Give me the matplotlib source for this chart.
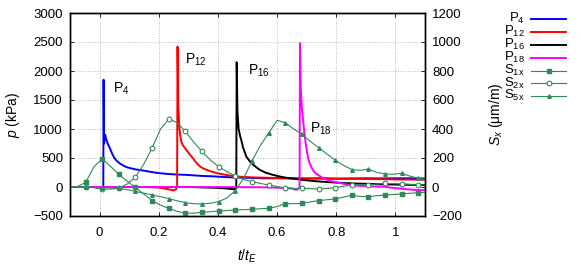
import matplotlib
matplotlib.use("Agg")
import matplotlib.pyplot as plt
from matplotlib.lines import Line2D

plt.rcParams['font.family'] = ['Liberation Sans', 'DejaVu Sans']
plt.rcParams['mathtext.fontset'] = 'custom'
plt.rcParams['mathtext.rm'] = 'Liberation Sans'
plt.rcParams['mathtext.it'] = 'Liberation Sans:italic'
plt.rcParams['mathtext.default'] = 'regular'

# ---------------- data ----------------
t_P4 = [-0.10, 0.0125, 0.0135, 0.0150, 0.017, 0.019, 0.021, 0.024, 0.028, 0.034, 0.042, 0.05,
        0.06, 0.07, 0.08, 0.09, 0.10, 0.12, 0.14, 0.16, 0.18, 0.20, 0.23, 0.26, 0.29, 0.32,
        0.35, 0.38, 0.41, 0.44, 0.47, 0.50, 0.55, 0.60, 0.65, 0.70, 0.75, 0.80, 0.85, 0.90,
        0.95, 1.00, 1.05, 1.10]
p_P4 = [0, 0, 1850, 750, 820, 900, 850, 800, 740, 680, 580, 500, 440, 400, 370, 345, 330, 305,
        290, 272, 255, 240, 225, 215, 210, 200, 190, 185, 175, 168, 162, 158, 150, 150, 148,
        145, 150, 145, 148, 150, 148, 150, 150, 148]

t_P12 = [-0.10, 0.15, 0.20, 0.23, 0.25, 0.258, 0.262, 0.2635, 0.266, 0.270, 0.275, 0.281,
         0.293, 0.305, 0.315, 0.325, 0.338, 0.35, 0.365, 0.382, 0.40, 0.42, 0.45, 0.48, 0.52,
         0.56, 0.60, 0.65, 0.70, 0.75, 0.80, 0.85, 0.90, 0.95, 1.00, 1.05, 1.10]
p_P12 = [0, 0, -10, -35, -60, -40, 0, 2420, 1400, 1000, 800, 724, 640, 560, 500, 430, 360, 320,
         290, 260, 235, 215, 190, 175, 165, 160, 155, 150, 148, 145, 140, 140, 138, 135, 130,
         128, 125]

t_P16 = [-0.10, 0.30, 0.40, 0.44, 0.455, 0.462, 0.4635, 0.466, 0.470, 0.475, 0.479, 0.485,
         0.496, 0.51, 0.525, 0.54, 0.56, 0.585, 0.61, 0.63, 0.66, 0.70, 0.73, 0.77, 0.81,
         0.845, 0.9, 0.95, 1.0, 1.07, 1.10]
p_P16 = [0, 0, -15, -30, -40, -20, 2150, 1300, 1000, 880, 810, 680, 523, 430, 360, 300, 250,
         210, 180, 160, 140, 115, 100, 85, 72, 63, 55, 48, 42, 35, 33]

t_P18 = [-0.10, 0.40, 0.55, 0.62, 0.65, 0.665, 0.672, 0.676, 0.6775, 0.680, 0.684, 0.687,
         0.692, 0.698, 0.704, 0.71, 0.72, 0.73, 0.75, 0.77, 0.79, 0.82, 0.845, 0.88, 0.92,
         0.96, 1.00, 1.03, 1.07, 1.10]
p_P18 = [0, 0, -5, -15, -25, -50, -30, 0, 2480, 1700, 1350, 1200, 950, 700, 520, 410, 300,
         236, 170, 120, 92, 60, 35, 20, 10, 6, -20, -35, -52, -55]

t_S = [-0.10, -0.075, -0.047, -0.019, 0.009, 0.037, 0.065, 0.093, 0.121, 0.150, 0.178, 0.206,
       0.234, 0.262, 0.290, 0.318, 0.346, 0.375, 0.403, 0.431, 0.459, 0.487, 0.515, 0.543,
       0.571, 0.600, 0.628, 0.656, 0.684, 0.712, 0.740, 0.768, 0.796, 0.824, 0.853, 0.881,
       0.909, 0.937, 0.965, 0.993, 1.021, 1.049, 1.078, 1.10]
S1x = [0, 3, 32, 140, 193, 142, 87, 40, -3, -50, -94, -125, -147, -168, -181, -180, -175,
       -170, -166, -162, -159, -156, -154, -150, -147, -135, -115, -115, -113, -103, -94, -88,
       -83, -70, -57, -65, -67, -60, -55, -52, -48, -43, -39, -37]
S2x = [0, 0, 2, -5, -16, -14, -9, 20, 67, 160, 272, 400, 468, 445, 383, 310, 245, 185, 140,
       105, 75, 52, 37, 25, 14, 3, -9, -12, -9, -12, -14, -10, -5, 5, 14, 15, 16, 20, 25, 23,
       21, 18, 14, 14]
S5x = [0, 0, -2, -3, -5, -7, -10, -18, -30, -43, -55, -67, -80, -95, -108, -115, -117, -112,
       -101, -75, -25, 60, 180, 285, 370, 460, 443, 400, 365, 315, 272, 228, 186, 150, 120,
       115, 124, 100, 90, 88, 94, 75, 60, 55]

x_ticks = [0, 0.2, 0.4, 0.6, 0.8, 1.0]
x_ticklabels = ['0', '0.2', '0.4', '0.6', '0.8', '1']
y_ticks = [-500, 0, 500, 1000, 1500, 2000, 2500, 3000]
y2_ticks = [-200, 0, 200, 400, 600, 800, 1000, 1200]

leg_labels = ['P$_{4}$', 'P$_{12}$', 'P$_{16}$', 'P$_{18}$', 'S$_{1x}$', 'S$_{2x}$', 'S$_{5x}$']

# ---------------- style ----------------
GREEN = '#2e8b57'
FS = 9.5
W, H = 581, 271

fig = plt.figure(figsize=(5.81, 2.71), dpi=100)
ax = fig.add_axes([70 / W, 1 - 216 / H, (425 - 70) / W, (216 - 13) / H])
ax2 = ax.twinx()

ax.set_xlim(-0.1, 1.1)
ax.set_ylim(-500, 3000)
ax2.set_ylim(-200, 1200)

ax.grid(True, color='#a0a0a0', linestyle=(0, (1, 2)), linewidth=0.6)
ax.set_axisbelow(True)

ax.plot(t_P4, p_P4, color='#0000ff', lw=1.4)
ax.plot(t_P12, p_P12, color='#ff0000', lw=1.4)
ax.plot(t_P16, p_P16, color='#000000', lw=1.4)
ax.plot(t_P18, p_P18, color='#ff00ff', lw=1.4)

mk = slice(2, 43, 2)
ax2.plot(t_S, S1x, color=GREEN, lw=0.8, marker='s', ms=3.2, markevery=mk, mfc=GREEN, mec=GREEN)
ax2.plot(t_S, S2x, color=GREEN, lw=0.8, marker='o', ms=3.4, markevery=mk, mfc='white', mec=GREEN, mew=0.8)
ax2.plot(t_S, S5x, color=GREEN, lw=0.8, marker='^', ms=2.6, markevery=mk, mfc=GREEN, mec=GREEN)

ax.set_xticks(x_ticks)
ax.set_xticklabels(x_ticklabels)
ax.set_yticks(y_ticks)
ax2.set_yticks(y2_ticks)

for a in (ax, ax2):
    a.tick_params(direction='in', length=3, width=0.6, labelsize=FS, pad=5)
    for s in a.spines.values():
        s.set_linewidth(1.0)
ax.tick_params(top=True)
ax.tick_params(axis='x', pad=8)

ax.set_ylabel('$\\mathit{p}$ (kPa)', fontsize=FS + 0.5, labelpad=8)
ax2.set_ylabel('$\\mathit{S_x}$ (μm/m)', fontsize=FS + 0.5, labelpad=18)
ax.set_xlabel('$\\mathit{t/t_E}$', fontsize=FS + 0.5, labelpad=6)

# annotations
ax.text(0.044, 1700, 'P$_{4}$', fontsize=FS + 0.5, va='center')
ax.text(0.29, 2190, 'P$_{12}$', fontsize=FS + 0.5, va='center')
ax.text(0.50, 2010, 'P$_{16}$', fontsize=FS + 0.5, va='center')
ax.text(0.712, 1010, 'P$_{18}$', fontsize=FS + 0.5, va='center')

# legend (gnuplot style: right-aligned labels, sample to the right)
leg_styles = [dict(color='#0000ff', lw=1.4), dict(color='#ff0000', lw=1.4),
              dict(color='#000000', lw=1.4), dict(color='#ff00ff', lw=1.4),
              dict(color=GREEN, lw=0.8, marker='s', ms=3.2, mfc=GREEN, mec=GREEN),
              dict(color=GREEN, lw=0.8, marker='o', ms=3.4, mfc='white', mec=GREEN, mew=0.8),
              dict(color=GREEN, lw=0.8, marker='^', ms=2.6, mfc=GREEN, mec=GREEN)]
for i, (lab, st) in enumerate(zip(leg_labels, leg_styles)):
    yy = 1 - (19 + i * 12.9) / H
    fig.text(525 / W, yy + 0.5 / H, lab, ha='right', va='center', fontsize=FS)
    fig.add_artist(Line2D([531 / W, 548.5 / W, 566 / W], [yy, yy, yy],
                          transform=fig.transFigure, markevery=[1], **st))

fig.savefig('out.png', dpi=100)
